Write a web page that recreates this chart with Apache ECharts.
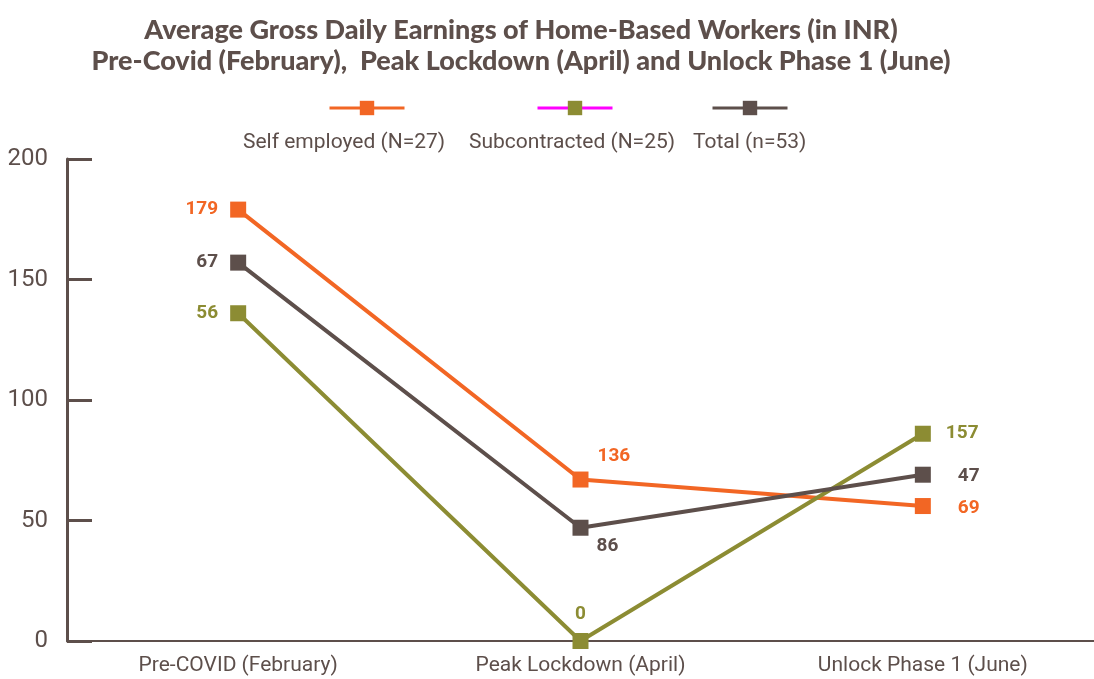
<!DOCTYPE html>
<html>
<head>
<meta charset="utf-8">
<script src="https://cdn.jsdelivr.net/npm/echarts@6/dist/echarts.min.js"></script>
<style>
  html, body { margin: 0; padding: 0; background: #fff; }
  #chart { width: 1094px; height: 679px; }
</style>
</head>
<body>
<div id="chart"></div>
<script>
'use strict';
// 数据
var categories = ['Pre-COVID (February)', 'Peak Lockdown (April)', 'Unlock Phase 1 (June)'];
var seriesNames = ['Self employed (N=27)', 'Subcontracted (N=25)', 'Total (n=53)'];
var selfValues = [179, 67, 56];
var subValues = [136, 0, 86];
var totalValues = [157, 47, 69];
// the printed labels, as they appear on the chart
var selfLabels = ['179', '136', '69'];
var subLabels = ['56', '0', '157'];
var totalLabels = ['67', '86', '47'];
var yTicks = [0, 50, 100, 150, 200];

var brown = '#5d4f4b';
var orange = '#f26624';
var olive = '#8c8c33';
var magenta = '#ff00ff';

var chart = echarts.init(document.getElementById('chart'));

function makeData(values, labels, positions) {
    return values.map(function (v, i) {
        return {
            value: v,
            label: {
                formatter: labels[i],
                position: positions[i].pos,
                offset: positions[i].offset || [0, 0]
            }
        };
    });
}

function lineSeries(name, color, data) {
    return {
        name: name,
        type: 'line',
        data: data,
        symbol: 'rect',
        symbolSize: 16,
        lineStyle: { color: color, width: 4 },
        itemStyle: { color: color },
        label: {
            show: true,
            color: color,
            fontFamily: 'Roboto',
            fontWeight: 'bold',
            fontSize: 19,
            distance: 12
        }
    };
}

function legendAt(left, name, lineColor) {
    return {
        left: left,
        top: 94,
        itemWidth: 75,
        itemHeight: 18,
        selectedMode: false,
        formatter: function () { return ''; },
        data: [{ name: name, lineStyle: { color: lineColor, width: 3 } }]
    };
}

var option = {
    animation: false,
    title: {
        text: 'Average Gross Daily Earnings of Home-Based Workers (in INR)\nPre-Covid (February),  Peak Lockdown (April) and Unlock Phase 1 (June)',
        left: 516,
        top: 10,
        textAlign: 'center',
        textStyle: {
            color: brown,
            fontFamily: 'Lato',
            fontWeight: 900,
            fontSize: 27,
            lineHeight: 31
        }
    },
    legend: [
        legendAt(323, seriesNames[0], orange),
        legendAt(531, seriesNames[1], magenta),
        legendAt(706, seriesNames[2], brown)
    ],
    graphic: [
        { type: 'text', left: 243, top: 132, style: { text: seriesNames[0], fill: brown, font: '21px Roboto' } },
        { type: 'text', left: 469, top: 132, style: { text: seriesNames[1], fill: brown, font: '21px Roboto' } },
        { type: 'text', left: 693, top: 132, style: { text: seriesNames[2], fill: brown, font: '21px Roboto' } }
    ],
    grid: {
        left: 67,
        top: 159,
        width: 1034,
        height: 482
    },
    xAxis: {
        type: 'category',
        data: categories,
        axisLine: { lineStyle: { color: brown, width: 2 } },
        axisTick: { inside: true, length: 11, lineStyle: { color: brown, width: 2 } },
        axisLabel: {
            color: brown,
            fontFamily: 'Roboto',
            fontSize: 21,
            margin: 14
        }
    },
    yAxis: {
        type: 'value',
        min: 0,
        max: 200,
        interval: 50,
        splitLine: { show: false },
        axisLine: { show: true, lineStyle: { color: brown, width: 3 } },
        axisTick: { show: true, inside: true, length: 25, lineStyle: { color: brown, width: 3 } },
        axisLabel: {
            color: brown,
            fontFamily: 'Roboto',
            fontSize: 24,
            margin: 19,
            formatter: function (v) { return yTicks.indexOf(v) >= 0 ? String(v) : ''; }
        }
    },
    series: [
        lineSeries(seriesNames[0], orange, makeData(selfValues, selfLabels, [
            { pos: 'left' }, { pos: 'right', offset: [-3, -23] }, { pos: 'right', offset: [15, 2] }
        ])),
        lineSeries(seriesNames[1], olive, makeData(subValues, subLabels, [
            { pos: 'left' }, { pos: 'top', offset: [0, 3] }, { pos: 'right', offset: [3, 0] }
        ])),
        lineSeries(seriesNames[2], brown, makeData(totalValues, totalLabels, [
            { pos: 'left' }, { pos: 'right', offset: [-4, 19] }, { pos: 'right', offset: [15, 2] }
        ]))
    ]
};

chart.setOption(option);
</script>
</body>
</html>
